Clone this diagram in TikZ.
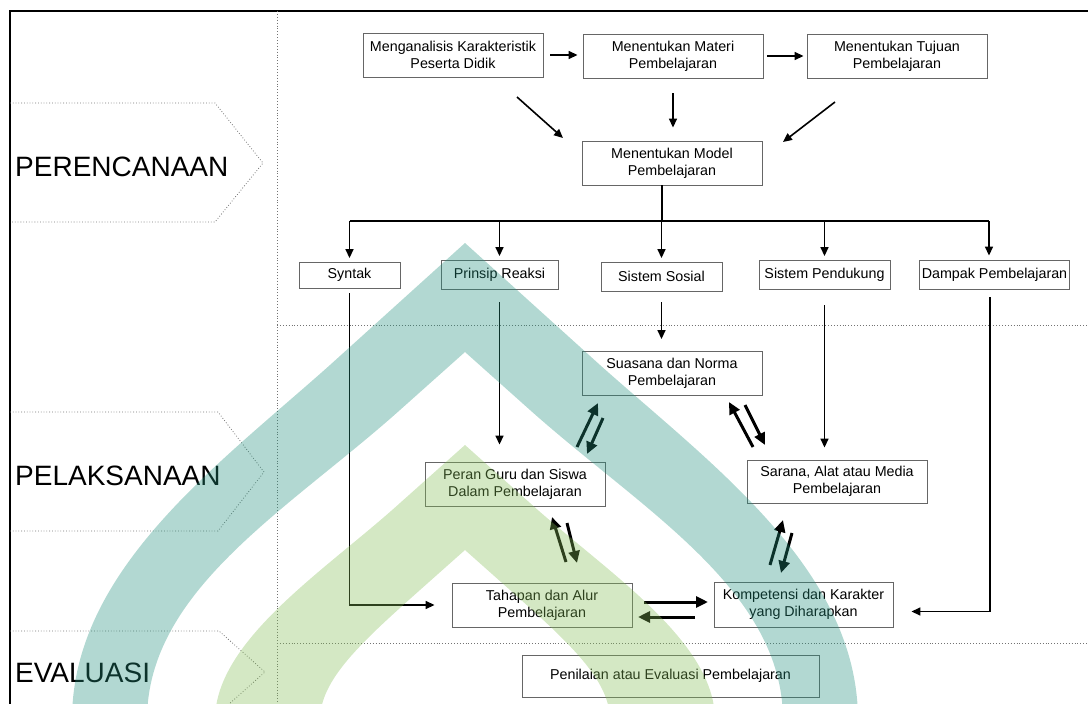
\documentclass[tikz,border=0pt]{standalone}
\usepackage{fontspec}
\setmainfont{Liberation Sans}
\usetikzlibrary{arrows.meta,positioning}
\definecolor{wmteal}{RGB}{35,144,126}
\definecolor{wmgreen}{RGB}{132,189,86}
\tikzset{
  box/.style={draw=black!60, line width=0.9pt, align=center, minimum width=180pt,
    minimum height=44pt, inner sep=2pt, font=\fontsize{14.3}{16.8}\selectfont},
  smallbox/.style={box, minimum height=29pt},
  phase/.style={draw=black!55, dotted, line width=0.8pt},
  phasetext/.style={anchor=west, inner sep=0pt, font=\fontsize{28}{30}\selectfont},
  sep/.style={draw=black!55, dotted, line width=0.9pt},
  arr/.style={-{Triangle[length=9pt,width=8pt]}, line width=1.6pt},
  dblarr/.style={-{Triangle[length=12pt,width=11pt]}, line width=3pt},
}
\begin{document}
\begin{tikzpicture}[x=1pt,y=-1pt]
\useasboundingbox (0,0) rectangle (1088,704);

% frame and separators
\draw[line width=1.5pt] (10,704) -- (10,11) -- (1088,11);
\draw[sep] (277,11) -- (277,704);
\draw[sep] (277,325) -- (1088,325);
\draw[sep] (277,643) -- (1088,643);

% phases
\draw[phase] (10,103) -- (215,103) -- (263,163) -- (215,222) -- (10,222);
\draw[phase] (10,412) -- (218,412) -- (264,472) -- (218,531) -- (10,531);
\draw[phase] (10,631) -- (219,631) -- (265,672) -- (219,713) -- (10,713);
\node[phasetext] (perencanaan) at (15,167) {PERENCANAAN};
\node[phasetext] (pelaksanaan) at (15,476) {PELAKSANAAN};
\node[phasetext] (evaluasi) at (15,673) {EVALUASI};

% planning
\node[box] (mengan) at (453,55) {Menganalisis Karakteristik\\Peserta Didik};
\node[box] (materi) at (673,56) {Menentukan Materi\\Pembelajaran};
\node[box] (tujuan) at (897,56) {Menentukan Tujuan\\Pembelajaran};
\node[box] (model) at (672,163) {Menentukan Model\\Pembelajaran};

\node[smallbox, minimum width=101pt, minimum height=26pt] (syntak) at (349.5,275) {Syntak};
\node[smallbox, minimum width=117pt] (prinsip) at (499.5,274.5) {Prinsip Reaksi};
\node[smallbox, minimum width=121pt] (sosial) at (661.5,276.5) {Sistem Sosial};
\node[smallbox, minimum width=131pt] (pendukung) at (824.5,274.5) {Sistem Pendukung};
\node[smallbox, minimum width=145pt] (dampak) at (994.5,274.5) {Dampak Pembelajaran};

% implementation
\node[box] (suasana) at (672,373.5) {Suasana dan Norma\\Pembelajaran};
\node[box] (peran) at (515,484) {Peran Guru dan Siswa\\Dalam Pembelajaran};
\node[box, minimum height=43pt] (sarana) at (837,481.5) {Sarana, Alat atau Media\\Pembelajaran};
\node[box] (tahapan) at (542,605) {Tahapan dan Alur\\Pembelajaran};
\node[box, minimum width=179pt, minimum height=45pt] (kompetensi) at (803.5,604.5) {Kompetensi dan Karakter\\yang Diharapkan};

% evaluation
\node[box, minimum width=297pt, minimum height=42pt] (penilaian) at (670.5,676) {Penilaian atau Evaluasi Pembelajaran};

% free ends
\coordinate (a1) at (517,97);   \coordinate (a2) at (563,138);
\coordinate (b1) at (835,102);  \coordinate (b2) at (783,142);
\coordinate (bar) at (662,221);
\coordinate (sp1) at (577,447); \coordinate (sp2) at (598,403);
\coordinate (sp3) at (603,418); \coordinate (sp4) at (587,454);
\coordinate (ss1) at (753,447); \coordinate (ss2) at (729,402);
\coordinate (ss3) at (745,405); \coordinate (ss4) at (765,445);
\coordinate (pt1) at (566,562); \coordinate (pt2) at (552,517);
\coordinate (pt3) at (567,523); \coordinate (pt4) at (577,563);
\coordinate (sk1) at (770,565); \coordinate (sk2) at (783,520);
\coordinate (sk3) at (792,533); \coordinate (sk4) at (781,573);
\coordinate (tk1) at (644,602); \coordinate (tk2) at (708,602);
\coordinate (tk3) at (695,617); \coordinate (tk4) at (638,617);

\draw[arr, shorten <=7pt, shorten >=5pt] (mengan.east) -- (mengan.east -| materi.west);
\draw[arr, shorten <=4pt, shorten >=3pt] (materi.east) -- (materi.east -| tujuan.west);
\draw[arr, shorten <=15pt, shorten >=13pt] (materi.south) -- (materi.south |- model.north);
\draw[arr] (a1) -- (a2);
\draw[arr] (b1) -- (b2);

\draw[line width=1.8pt] (model.south -| bar) -- (bar);
\draw[line width=1.8pt] (syntak.north |- bar) -- ([xshift=-5.5pt]dampak.north |- bar);
\foreach \n in {syntak,prinsip,sosial,pendukung}
  \draw[arr, shorten >=3.5pt] (\n.north |- bar) -- (\n.north);
\draw[arr, shorten >=4pt] ([xshift=-5.5pt]dampak.north |- bar) -- ([xshift=-5.5pt]dampak.north);

\draw[arr, shorten <=5pt, shorten >=17pt] (syntak.south) |- (tahapan.west);
\draw[arr, shorten <=13pt, shorten >=17pt] (prinsip.south) -- (prinsip.south |- peran.north);
\draw[arr, shorten <=11pt, shorten >=12pt] (sosial.south) -- (sosial.south |- suasana.north);
\draw[arr, shorten <=16pt, shorten >=12pt] (pendukung.south) -- (pendukung.south |- sarana.north);
\draw[arr, shorten <=8pt, shorten >=18pt] ([xshift=-4.5pt]dampak.south) |- ([yshift=-7pt]kompetensi.east);

\draw[dblarr] (sp1) -- (sp2);
\draw[dblarr] (sp3) -- (sp4);
\draw[dblarr] (ss1) -- (ss2);
\draw[dblarr] (ss3) -- (ss4);
\draw[dblarr] (pt1) -- (pt2);
\draw[dblarr] (pt3) -- (pt4);
\draw[dblarr] (sk1) -- (sk2);
\draw[dblarr] (sk3) -- (sk4);
\draw[dblarr] (tk1) -- (tk2);
\draw[dblarr] (tk3) -- (tk4);

% watermark
\begin{scope}
\clip (0,0) rectangle (1088,704);
\fill[wmteal, fill opacity=0.35] (72,720) .. controls (72,570) and (218,465) .. (330,365)
  -- (465,243) -- (600,365) .. controls (712,465) and (858,570) .. (858,720)
  -- (783,720) .. controls (783,590) and (642,510) .. (530,410)
  -- (465,352) -- (400,410) .. controls (288,510) and (147,590) .. (147,720) -- cycle;
\fill[wmgreen, fill opacity=0.35] (215,720) .. controls (215,640) and (326,570) .. (400,503)
  -- (465,445) -- (530,503) .. controls (604,570) and (715,640) .. (715,720)
  -- (610,720) .. controls (610,680) and (569.5,643) .. (510,590)
  -- (465,550) -- (420,590) .. controls (360.5,643) and (320,680) .. (320,720) -- cycle;
\end{scope}
\end{tikzpicture}
\end{document}
